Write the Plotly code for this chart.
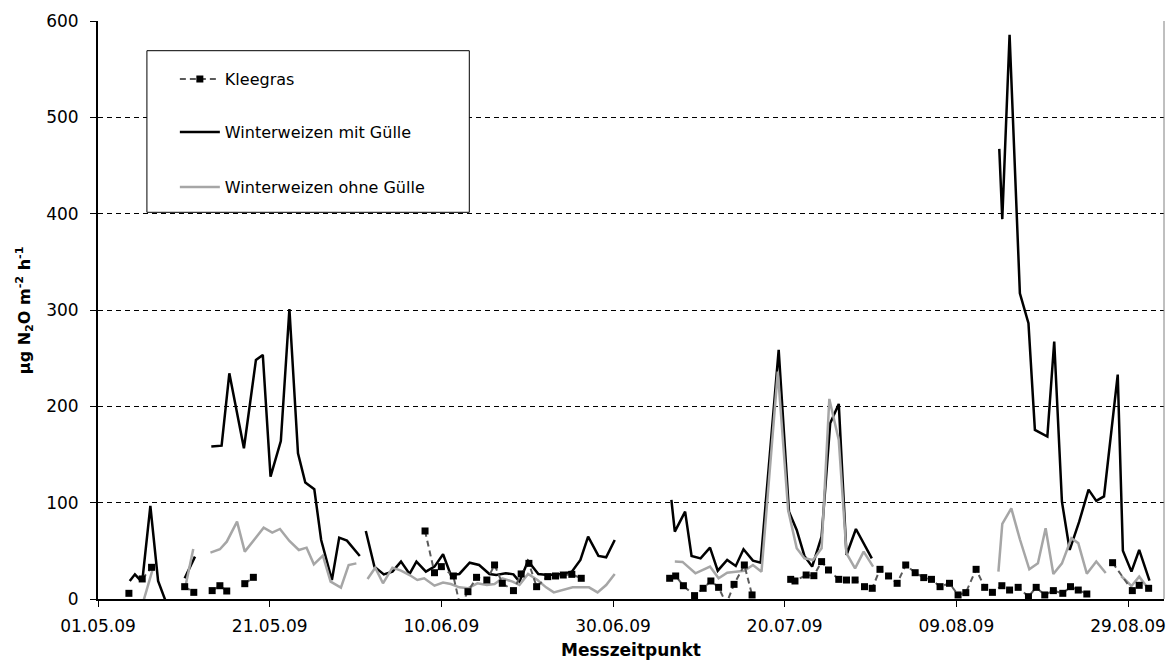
import pandas as pd
import plotly.graph_objects as go

# ---------------- data ----------------
start_date = "2009-05-01"          # x values are days after 01.05.09; None = gap in the series
end_day = 124.19                   # right end of the date axis

tick_dates = ["2009-05-01", "2009-05-21", "2009-06-10", "2009-06-30",
              "2009-07-20", "2009-08-09", "2009-08-29"]
tick_text = ["01.05.09", "21.05.09", "10.06.09", "30.06.09",
             "20.07.09", "09.08.09", "29.08.09"]

kg_day = [3.6, None,
          5.15, 6.24, None,
          10.1, 11.16, None,
          13.3, 14.2, 15.0, None,
          17.1, 18.1, None,
          38.1, 39.2, 40.0, 41.4, 42.2, 43.1, 44.1, 45.3, 46.2, 47.1, 48.4, 49.3, 50.2, 51.1, 52.4,
          53.3, 54.2, 55.2, 56.3, None,
          66.6, 67.3, 68.2, 69.5, 70.5, 71.4, 72.3, 73.2, 74.1, 75.3, 76.2, None,
          80.7, 81.2, 82.5, 83.4, 84.3, 85.1, 86.3, 87.2, 88.2, 89.3, 90.2, 91.1, 92.1, 93.1, 94.1,
          95.2, 96.2, 97.1, 98.1, 99.2, 100.2, 101.1, 102.3, 103.3, 104.2, 105.3, 106.2, 107.2,
          108.4, 109.3, 110.3, 111.3, 112.4, 113.3, 114.2, 115.2, None,
          118.2, 120.5, 121.3, 122.4]
kg_val = [5.9, None,
          20.8, 32.9, None,
          12.8, 6.9, None,
          8.7, 13.8, 8.3, None,
          15.9, 22.5, None,
          70.6, 27.3, 33.6, 23.9, -8, 7.6, 22.5, 19.7, 35.3, 16.3, 8.7, 26.0, 37.0, 12.8, 23.2,
          23.9, 24.9, 25.6, 21.5, None,
          21.5, 23.9, 13.8, 3.5, 11.1, 18.7, 12.1, -5, 15.2, 35.3, 4.2, None,
          20.4, 18.7, 24.9, 24.2, 38.8, 30.1, 20.4, 19.7, 19.7, 12.8, 11.1, 30.8, 23.9, 16.3, 35.3,
          27.3, 22.2, 20.4, 12.8, 16.3, 4.2, 6.6, 30.8, 12.1, 6.9, 13.8, 9.3, 12.1,
          2.4, 12.1, 4.2, 8.7, 5.9, 12.8, 9.3, 5.2, None,
          37.7, 8.7, 14.2, 11.1]

wm_day = [3.7, 4.3, 4.8, 5.2, 6.1, 7.0, 8.0, None,
          10.1, 11.3, None,
          13.2, 14.4, 15.3, 17.0, 18.4, 19.2, 20.1, 21.3, 22.3, 23.3, 24.15, 25.2, 26.0, 27.25,
          28.1, 29.0, 30.5, None,
          31.2, 32.2, 33.3, 34.3, 35.3, 36.3, 37.1, 38.2, 39.2, 40.2, 41.1, 42.1, 43.3, 44.4, 45.6,
          46.4, 47.5, 48.4, 49.1, 50.1, 51.3, 52.4, 53.3, 54.1, 55.2, 56.2, 57.1, 58.3, 59.2, 60.2, None,
          66.8, 67.2, 68.4, 69.15, 70.2, 71.3, 72.2, 73.3, 74.3, 75.2, 76.3, 77.2, 79.3, 80.5, 81.4,
          82.3, 83.2, 84.3, 85.3, 86.3, 87.2, 88.3, 90.15, None,
          105.0, 105.35, 106.2, 107.4, 108.4, 109.15, 110.6, 111.4, 112.3, 113.2, 114.3, 115.4,
          116.3, 117.2, 118.8, 119.4, 120.4, 121.3, 122.5]
wm_val = [18.7, 25.6, 20.8, 22, 96.6, 18.7, -5, None,
          21.5, 44, None,
          158.2, 159.2, 234.3, 156.5, 248.2, 253.4, 127, 164, 301, 151.3, 120.8, 113.9, 61.3, 19.7,
          63.7, 60.6, 44.7, None,
          70.6, 33.6, 25.5, 28.4, 38.8, 26, 38.8, 28.4, 33.6, 46.4, 24.9, 26, 37.7, 35.3, 26,
          24.9, 26.7, 25.6, 18, 39.5, 26, 24.9, 25.5, 26, 28.4, 40.5, 64.7, 44.7, 43.3, 61.3, None,
          102.8, 69.9, 90.7, 44.7, 42.2, 53.3, 29.4, 40.5, 34.3, 51.6, 39.8, 37.7, 258.6, 90.7, 71.7,
          44.7, 33.6, 64.7, 182.4, 202.5, 45.7, 72.7, 42.2, None,
          467.3, 394.3, 585.7, 317.4, 286.3, 175.5, 168.6, 267.2, 101, 50.9, 80, 113.5,
          101.8, 106.5, 233, 50, 28.4, 50.9, 19]

wo_day = [5.3, 6.4, None,
          10.2, 11.1, None,
          13.1, 14.2, 15.0, 16.2, 17.1, 18.3, 19.3, 20.3, 21.2, 22.3, 23.4, 24.3, 25.15, 26.2, 27.1,
          28.3, 29.2, 30.1, None,
          31.4, 32.3, 33.2, 34.3, 35.3, 36.3, 37.2, 38.0, 39.2, 40.2, 41.1, 42.1, 43.1, 44.2, 45.3,
          46.2, 47.1, 48.3, 49.1, 50.1, 51.2, 52.2, 53.1, 54.1, 55.3, 56.2, 57.2, 58.2, 59.2, 60.2, None,
          67.2, 68.1, 69.6, 70.5, 71.3, 72.3, 73.3, 74.3, 75.3, 76.3, 77.3, 79.2, 80.4, 81.4, 82.3,
          83.3, 84.3, 85.2, 86.3, 87.2, 88.2, 89.2, 90.3, None,
          104.9, 105.35, 106.4, 107.4, 108.5, 109.5, 110.4, 111.3, 112.3, 113.4, 114.2, 115.2,
          116.3, 117.4, None,
          119.2, 120.4, 121.3, 122.4]
wo_val = [-2, 31.8, None,
          13.8, 51.9, None,
          48.1, 51.6, 59.5, 80.3, 49.2, 62.3, 74, 68.9, 72.7, 60.2, 50.9, 53.3, 36, 45, 18,
          11.8, 35.3, 37, None,
          20.8, 32.5, 16.3, 32.5, 29.4, 24.9, 19.7, 21.5, 13.8, 17, 15.6, 12.1, 11.1, 16.3, 14.5,
          15.6, 21.5, 18, 14.5, 26, 19.7, 12.1, 6.9, 9.3, 12.1, 12.1, 12.1, 6.9, 14.5, 26, None,
          38.8, 38.5, 26.7, 30, 33.6, 21.5, 27.3, 28.4, 29.4, 35.3, 28.4, 236, 92.4, 52.6, 42.2,
          40.5, 52.6, 207.7, 165, 47.4, 31.8, 49.2, 33.6, None,
          28.4, 77.9, 94.1, 62, 30.8, 37, 73.4, 26, 37, 63, 58, 26.3,
          39, 27, None,
          23.9, 13.5, 23.2, 10]

series_names = ["Kleegras", "Winterweizen mit Gülle", "Winterweizen ohne Gülle"]

# ---------------- figure ----------------
start = pd.Timestamp(start_date)


def to_dates(days):
    return [None if d is None else start + pd.Timedelta(days=d) for d in days]


for d, v in [(kg_day, kg_val), (wm_day, wm_val), (wo_day, wo_val)]:
    if len(d) != len(v):
        raise ValueError("length mismatch")

FONT = "DejaVu Sans"
fig = go.Figure()

fig.add_trace(go.Scatter(
    x=to_dates(wm_day), y=wm_val, name=series_names[1], mode="lines",
    line=dict(color="#000000", width=2.5), legend="legend2", showlegend=True))
fig.add_trace(go.Scatter(
    x=to_dates(wo_day), y=wo_val, name=series_names[2], mode="lines",
    line=dict(color="#a6a6a6", width=2.5), legend="legend3", showlegend=True))
fig.add_trace(go.Scatter(
    x=to_dates(kg_day), y=kg_val, name=series_names[0], mode="lines+markers",
    line=dict(color="#5a5a5a", width=2, dash="6px,4px"),
    marker=dict(symbol="square", size=7, color="#000000"), legend="legend", showlegend=True))

plot_l, plot_r, plot_t, plot_b = 98, 1166, 21, 599
pw, ph = plot_r - plot_l, plot_b - plot_t


def px_x(px):
    return (px - plot_l) / pw


def px_y(py):
    return (plot_b - py) / ph


leg_common = dict(xanchor="left", yanchor="middle", bgcolor="rgba(0,0,0,0)",
                  borderwidth=0, font=dict(family=FONT, size=16, color="#000000"),
                  itemwidth=40)

fig.update_layout(
    width=1176, height=666,
    showlegend=True,
    margin=dict(l=plot_l, r=1176 - plot_r, t=plot_t, b=666 - plot_b),
    paper_bgcolor="white", plot_bgcolor="white",
    font=dict(family=FONT, size=16, color="#000000"),
    legend=dict(x=px_x(175), y=px_y(79), **leg_common),
    legend2=dict(x=px_x(175), y=px_y(132), **leg_common),
    legend3=dict(x=px_x(175), y=px_y(187), **leg_common),
    xaxis=dict(type="date",
               range=[start, start + pd.Timedelta(days=end_day)],
               tickvals=tick_dates, ticktext=tick_text,
               ticks="outside", ticklen=6, tickwidth=1, tickcolor="#000000",
               showline=True, linecolor="#000000", linewidth=2,
               showgrid=False, zeroline=False, ticklabelstandoff=5,
               tickfont=dict(family=FONT, size=17)),
    yaxis=dict(range=[0, 600], tick0=0, dtick=100,
               ticks="outside", ticklen=6, tickwidth=1, tickcolor="#000000",
               showline=True, linecolor="#000000", linewidth=2,
               showgrid=True, gridcolor="#000000", gridwidth=1, griddash="5px,4px",
               zeroline=False, ticklabelstandoff=8,
               tickfont=dict(family=FONT, size=17)),
    shapes=[
        dict(type="rect", xref="paper", yref="paper",
             x0=px_x(147), x1=px_x(470), y0=px_y(212.3), y1=px_y(50.7),
             fillcolor="white", line=dict(color="#000000", width=1), layer="above"),
        dict(type="line", xref="paper", yref="paper", x0=1, x1=1, y0=0, y1=1,
             line=dict(color="#808080", width=1)),
    ],
    annotations=[
        dict(text="<b>µg N<sub>2</sub>O m<sup>-2</sup> h<sup>-1</sup></b>",
             xref="paper", yref="paper", x=px_x(24), y=0.5, textangle=-90,
             showarrow=False, xanchor="center", yanchor="middle",
             font=dict(family=FONT, size=16, color="#000000")),
        dict(text="<b>Messzeitpunkt</b>", xref="paper", yref="paper",
             x=0.5, y=px_y(650), showarrow=False, xanchor="center", yanchor="middle",
             font=dict(family=FONT, size=17, color="#000000")),
    ],
)

fig.write_html("out.html",
               config={"displayModeBar": False},
               post_script="document.body.style.margin='0';document.body.style.overflow='hidden';")
